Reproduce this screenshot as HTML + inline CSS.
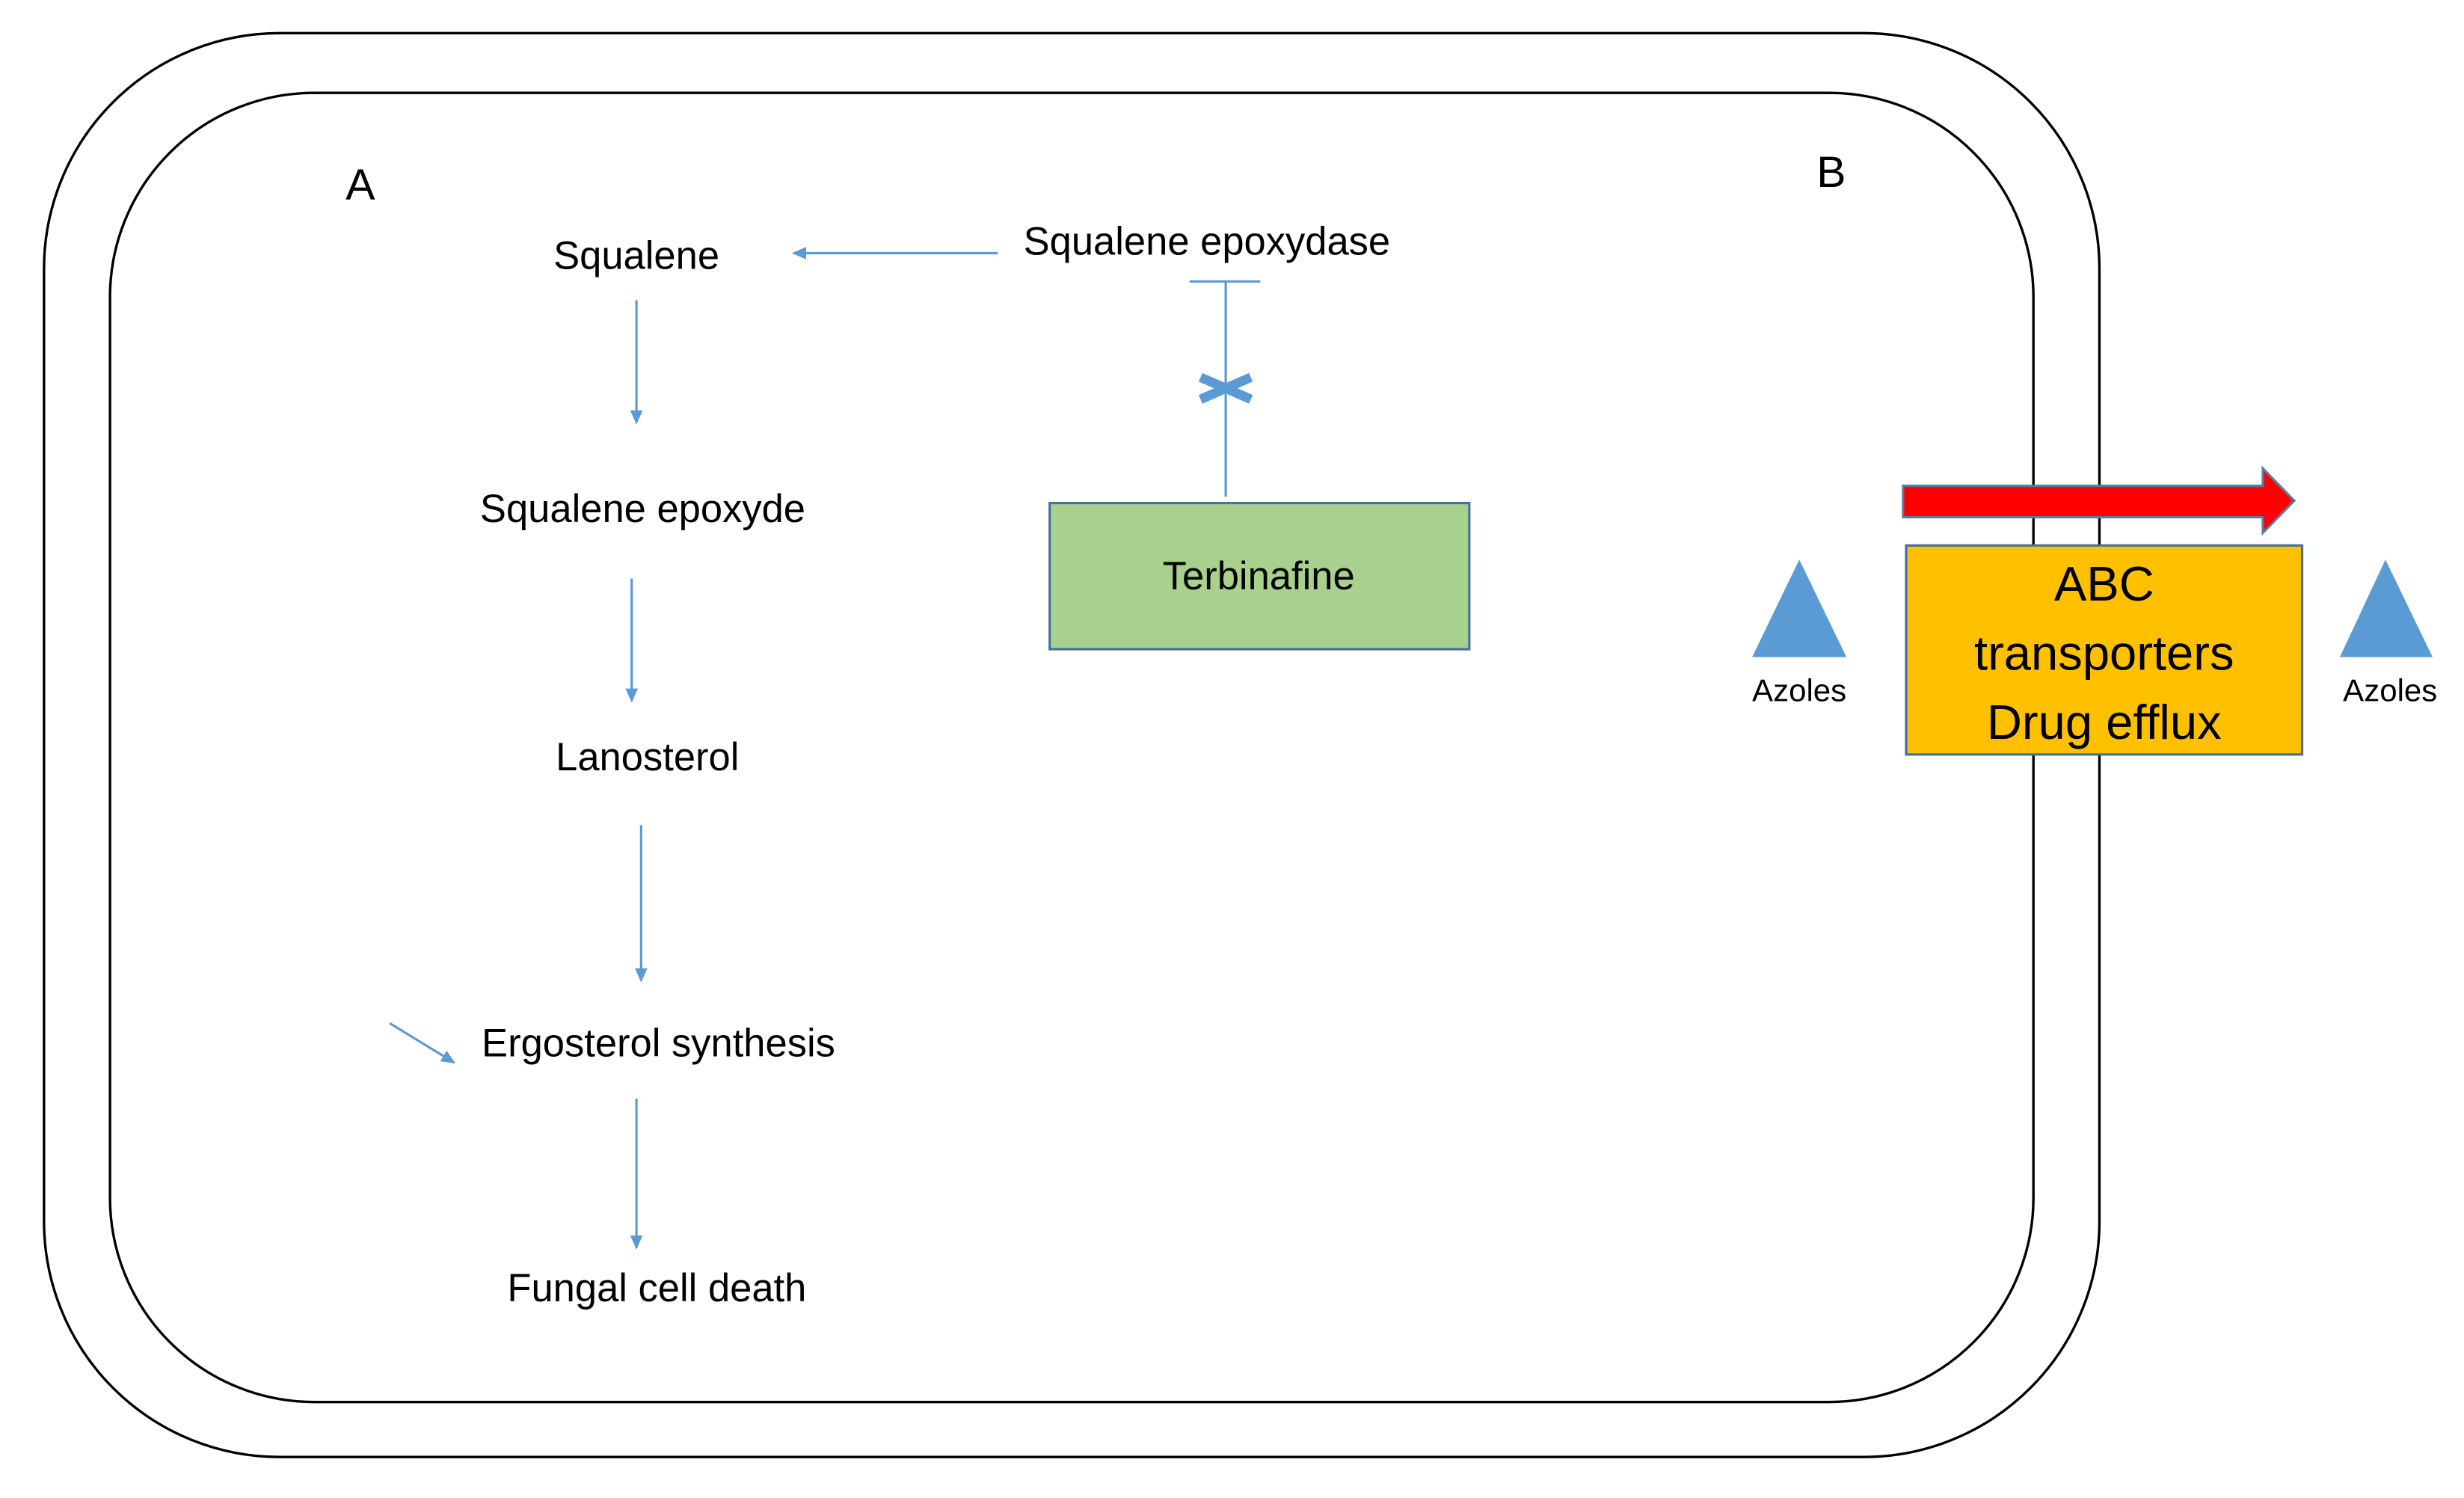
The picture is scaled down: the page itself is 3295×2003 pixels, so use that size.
<!DOCTYPE html>
<html><head><meta charset="utf-8"><style>
html,body{margin:0;padding:0;background:#fff;}
svg{display:block;}
text{font-family:"Liberation Sans",sans-serif;fill:#000;}
</style></head><body>
<svg width="3295" height="2003" viewBox="0 0 1568 953" xmlns="http://www.w3.org/2000/svg">
<defs>
<marker id="ah" markerWidth="10" markerHeight="10" refX="8" refY="5" orient="auto" markerUnits="userSpaceOnUse">
<path d="M0,1 L9,5 L0,9 Z" fill="#5B9BD5"/>
</marker>
</defs>
<rect x="28" y="21" width="1308" height="906" rx="150" ry="150" fill="none" stroke="#000" stroke-width="1.6"/>
<rect x="70" y="59" width="1224" height="833" rx="130" ry="130" fill="none" stroke="#000" stroke-width="1.6"/>
<text x="220" y="127" font-size="28">A</text>
<text x="1156" y="119" font-size="28">B</text>
<rect x="668" y="320" width="267" height="93" fill="#A9D18E" stroke="#41719C" stroke-width="1.5"/>
<g font-size="25">
<text x="405" y="171" text-anchor="middle">Squalene</text>
<text x="768" y="162" text-anchor="middle">Squalene epoxydase</text>
<text x="409" y="332" text-anchor="middle">Squalene epoxyde</text>
<text x="412" y="490" text-anchor="middle">Lanosterol</text>
<text x="419" y="672" text-anchor="middle">Ergosterol synthesis</text>
<text x="418" y="828" text-anchor="middle">Fungal cell death</text>
<text x="801" y="375" text-anchor="middle">Terbinafine</text>
</g>
<g stroke="#5B9BD5" stroke-width="1.5" fill="none">
<line x1="635" y1="161" x2="505" y2="161" marker-end="url(#ah)"/>
<line x1="405" y1="191" x2="405" y2="269" marker-end="url(#ah)"/>
<line x1="402" y1="368" x2="402" y2="446" marker-end="url(#ah)"/>
<line x1="408" y1="525" x2="408" y2="624" marker-end="url(#ah)"/>
<line x1="405" y1="699" x2="405" y2="794" marker-end="url(#ah)"/>
<line x1="248" y1="651" x2="289" y2="676" marker-end="url(#ah)"/>
<line x1="757" y1="179" x2="802" y2="179"/>
<line x1="780" y1="179" x2="780" y2="316"/>
</g>
<g stroke="#5B9BD5" stroke-width="6" stroke-linecap="butt">
<line x1="764" y1="240" x2="796" y2="254"/>
<line x1="764" y1="254" x2="796" y2="240"/>
</g>
<path d="M1211,309 L1440,309 L1440,298 L1460,318.5 L1440,339 L1440,329 L1211,329 Z" fill="#FF0000" stroke="#5A7AA0" stroke-width="1.5"/>
<rect x="1213" y="347" width="252" height="133" fill="#FFC000" stroke="#41719C" stroke-width="1.5"/>
<g font-size="31" text-anchor="middle">
<text x="1339" y="382">ABC</text>
<text x="1339" y="426">transporters</text>
<text x="1339" y="470">Drug efflux</text>
</g>
<polygon points="1145,356 1175,418 1115,418" fill="#5B9BD5"/>
<polygon points="1518,356 1548,418 1489,418" fill="#5B9BD5"/>
<g font-size="20" text-anchor="middle">
<text x="1145" y="446">Azoles</text>
<text x="1521" y="446">Azoles</text>
</g>
</svg>
</body></html>
